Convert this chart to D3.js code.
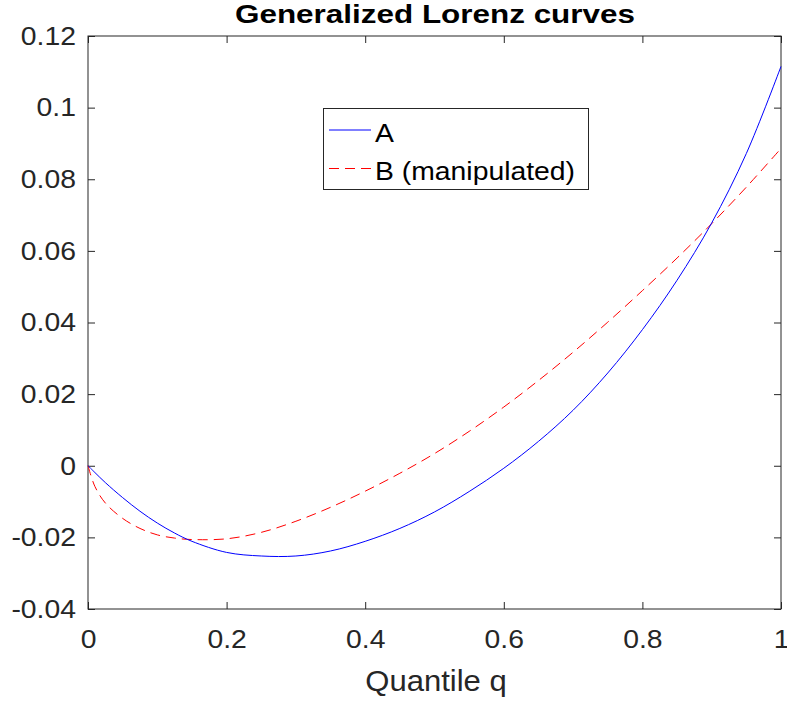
<!DOCTYPE html>
<html>
<head>
<meta charset="utf-8">
<script src="https://cdn.jsdelivr.net/npm/d3@7"></script>
<style>
  html, body { margin: 0; padding: 0; background: #fff; }
  svg { display: block; }
  text { font-family: "Liberation Sans", Arial, Helvetica, sans-serif; fill: #262626; }
</style>
</head>
<body>
<svg id="chart" width="787" height="701"></svg>
<script>
// ---- Data ----
const quantiles = [0, 0.01, 0.025, 0.05, 0.075, 0.1, 0.125, 0.15, 0.2, 0.25, 0.3, 0.35, 0.4, 0.45, 0.5, 0.55, 0.6, 0.65, 0.7, 0.75, 0.8, 0.85, 0.9, 0.95, 1.0];
const seriesA = [0, -0.0019, -0.0047, -0.0089, -0.0127, -0.0160, -0.0188, -0.0211, -0.0242, -0.0252, -0.0252, -0.0238, -0.0211, -0.0175, -0.0129, -0.0072, -0.0007, 0.0068, 0.0155, 0.0259, 0.0380, 0.0518, 0.0678, 0.0872, 0.1115];
const seriesB = [0, -0.0058, -0.0104, -0.0147, -0.0175, -0.0193, -0.0202, -0.0206, -0.0204, -0.0186, -0.0155, -0.0116, -0.0071, -0.0021, 0.0034, 0.0096, 0.0164, 0.0238, 0.0317, 0.0401, 0.0489, 0.0580, 0.0676, 0.0778, 0.0886];
const seriesNames = ["A", "B (manipulated)"];
const xTicks = [0, 0.2, 0.4, 0.6, 0.8, 1];
const xTickLabels = ["0", "0.2", "0.4", "0.6", "0.8", "1"];
const yTicks = [-0.04, -0.02, 0, 0.02, 0.04, 0.06, 0.08, 0.1, 0.12];
const yTickLabels = ["-0.04", "-0.02", "0", "0.02", "0.04", "0.06", "0.08", "0.1", "0.12"];
const titleText = "Generalized Lorenz curves";
const xLabelText = "Quantile q";

// ---- Layout ----
const svg = d3.select("#chart");
const L = 88, R = 781, T = 36, B = 609;
const x = d3.scaleLinear().domain([0, 1]).range([L, R]);
const y = d3.scaleLinear().domain([-0.04, 0.12]).range([B, T]);
const axisColor = "#262626";
const STRETCH = 1.09;

function stretch(sel, k) {
  sel.each(function () {
    const w = this.getComputedTextLength();
    d3.select(this).attr("textLength", w * k).attr("lengthAdjust", "spacingAndGlyphs");
  });
}

// Axes (ticks pointing inward)
const gx = svg.append("g").attr("transform", `translate(0,${B})`)
  .call(d3.axisBottom(x).tickValues(xTicks).tickFormat((d, i) => xTickLabels[i]).tickSize(-7).tickPadding(14));
const gxTop = svg.append("g").attr("transform", `translate(0,${T})`)
  .call(d3.axisTop(x).tickValues(xTicks).tickFormat("").tickSize(-7));
const gy = svg.append("g").attr("transform", `translate(${L},0)`)
  .call(d3.axisLeft(y).tickValues(yTicks).tickFormat((d, i) => yTickLabels[i]).tickSize(-7).tickPadding(12));
const gyR = svg.append("g").attr("transform", `translate(${R},0)`)
  .call(d3.axisRight(y).tickValues(yTicks).tickFormat("").tickSize(-7));

[gx, gxTop, gy, gyR].forEach(g => {
  g.select(".domain").remove();
  g.selectAll(".tick line").attr("stroke", axisColor).attr("stroke-width", 1);
  g.selectAll(".tick text").attr("font-size", 26).attr("fill", axisColor)
    .style("font-family", '"Liberation Sans", Arial, sans-serif');
});
gx.selectAll(".tick text").attr("dy", "0.71em").attr("y", 21);
stretch(gx.selectAll(".tick text"), STRETCH);
stretch(gy.selectAll(".tick text"), STRETCH);

// Box
svg.append("rect").attr("x", L).attr("y", T).attr("width", R - L).attr("height", B - T)
  .attr("fill", "none").attr("stroke", axisColor).attr("stroke-width", 1);

// Lines
const line = d3.line().x((d, i) => x(quantiles[i])).y(d => y(d)).curve(d3.curveCatmullRom.alpha(0.5));
const plot = svg.append("g");
plot.append("path").datum(seriesB).attr("d", line)
  .attr("fill", "none").attr("stroke", "#ff0000").attr("stroke-width", 1).attr("stroke-dasharray", "10,6");
plot.append("path").datum(seriesA).attr("d", line)
  .attr("fill", "none").attr("stroke", "#0000ff").attr("stroke-width", 1);

// Title
const title = svg.append("text").attr("x", 435).attr("y", 23).attr("text-anchor", "middle")
  .attr("font-size", 25).attr("font-weight", "bold").style("fill", "#000").text(titleText);
title.attr("textLength", 400).attr("lengthAdjust", "spacingAndGlyphs");

// X label
const xl = svg.append("text").attr("x", 436).attr("y", 691).attr("text-anchor", "middle")
  .attr("font-size", 29).text(xLabelText);
stretch(xl, 1.07);

// Legend
const lg = svg.append("g");
lg.append("rect").attr("x", 323.5).attr("y", 108.5).attr("width", 265).attr("height", 81)
  .attr("fill", "#fff").attr("stroke", axisColor).attr("stroke-width", 1);
const legendRows = [
  { name: seriesNames[0], color: "#0000ff", dash: null, ly: 130, ty: 141.5 },
  { name: seriesNames[1], color: "#ff0000", dash: "10,6", ly: 168.5, ty: 180 }
];
legendRows.forEach(r => {
  lg.append("line").attr("x1", 329).attr("x2", 371).attr("y1", r.ly).attr("y2", r.ly)
    .attr("stroke", r.color).attr("stroke-width", 1).attr("stroke-dasharray", r.dash);
  const t = lg.append("text").attr("x", 375).attr("y", r.ty).attr("font-size", 26).style("fill", "#000").text(r.name);
  stretch(t, STRETCH);
});
</script>
</body>
</html>
